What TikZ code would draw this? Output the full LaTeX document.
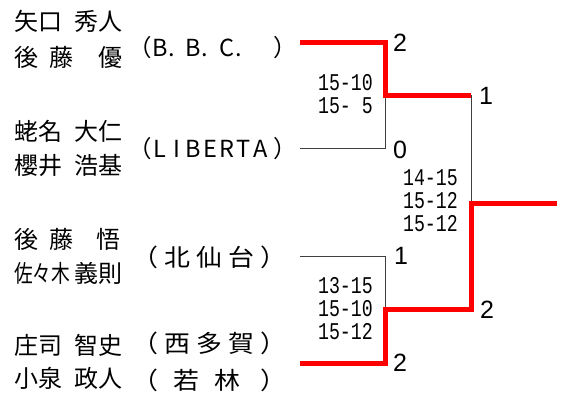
\documentclass[tikz,border=0pt]{standalone}
\usepackage{fontspec}
\usepackage{graphicx}
\newfontfamily\jp{Noto Sans CJK JP}
\newfontfamily\jpwide[FakeStretch=1.08]{Noto Sans CJK JP}
\newfontfamily\scorefont[FakeStretch=0.76]{Liberation Mono}
\newfontfamily\numfont{Liberation Sans}
\newcommand\lslot[1]{\makebox[16.7pt]{#1}}
\newcommand\lslotl[1]{\makebox[16.7pt][l]{#1}}
\tikzset{
  person/.style={font=\jp\fontsize{24}{24}\selectfont, anchor=west, inner sep=0pt},
  club/.style={font=\jpwide\fontsize{24}{24}\selectfont, anchor=west, inner sep=0pt},
  lclub/.style={font=\jp\fontsize{23.5}{23.5}\selectfont, anchor=west, inner sep=0pt},
  score/.style={font=\scorefont\fontsize{24}{23}\selectfont, align=right, anchor=east, inner sep=0pt},
  res/.style={font=\numfont\fontsize{25}{25}\selectfont, inner sep=0pt},
  loser/.style={draw=black!75, line width=1pt},
  winner/.style={draw=red, line width=5pt},
}
\begin{document}
\begin{tikzpicture}[x=1pt,y=-1pt]
\path[fill=white, use as bounding box] (0,0) rectangle (566,394);
% players
\node[person] (p1a) at (14,21.5) {\makebox[108pt]{矢口\hfill 秀人}};
\node[person] (p1b) at (14,57.5) {\makebox[108pt]{\makebox[59pt]{後\hfill 藤}\hfill 優}};
\node[person] (p2a) at (14,131) {\makebox[108pt]{蛯名\hfill 大仁}};
\node[person] (p2b) at (14,165.5) {\makebox[108pt]{櫻井\hfill 浩基}};
\node[person] (p3a) at (14,239) {\makebox[106pt]{\makebox[59pt]{後\hfill 藤}\hfill 悟}};
\node[person] (p3b) at (14,273.5) {\makebox[108pt]{\scalebox{0.78}[1]{佐々木}\hfill 義則}};
\node[person] (p4a) at (14,345) {\makebox[108pt]{庄司\hfill 智史}};
\node[person] (p4b) at (14,378.5) {\makebox[108pt]{小泉\hfill 政人}};
% clubs
\node[lclub] (c1) at (118.3,48) {\makebox[33.4pt][r]{（}\lslot{B}\lslotl{.}\lslot{B}\lslotl{.}\lslot{C}\lslotl{.}\lslot{ }\makebox[33.4pt][l]{\hspace{5pt}）}};
\node[lclub] (c2) at (118.3,148.5) {\makebox[33.4pt][r]{（}\lslot{L}\lslot{I}\lslot{B}\lslot{E}\lslot{R}\lslot{T}\lslot{A}\makebox[33.4pt][l]{\hspace{5pt}）}};
\node[club] (c3) at (132,257) {\makebox[154pt]{（\hfill 北\hfill 仙\hfill 台\hfill ）}};
\node[club] (c4) at (132,343.5) {\makebox[154pt]{（\hfill 西\hfill 多\hfill 賀\hfill ）}};
\node[club] (c5) at (132,380) {\makebox[154pt]{（\hspace{15pt}若\hspace{15pt}林\hfill ）}};
% bracket points
\coordinate (t1) at (300,42);
\coordinate (t2) at (300,148);
\coordinate (t3) at (300,256);
\coordinate (t4) at (300,363);
\coordinate (s1) at (385,95);
\coordinate (s2) at (385,309);
\coordinate (f1) at (471,95);
\coordinate (f2) at (471,309);
\coordinate (fm) at (471,203);
\coordinate (ch) at (557,203);
% loser lines
\draw[loser] (t2) -| (s1);
\draw[loser] (t3) -| (s2);
\draw[loser] (f1) -- (fm);
% winner lines
\draw[winner] (t1) -| (s1) -- (f1);
\draw[winner] (t4) -| (s2) -- (f2) -- (fm) -- (ch);
% results
\node[res] (r1) at (400,42.5) {2};
\node[res] (r2) at (400,150) {0};
\node[res] (r3) at (401,256) {1};
\node[res] (r4) at (400,363) {2};
\node[res] (r5) at (486,96) {1};
\node[res] (r6) at (487,310) {2};
% scores
\node[score] (sc1) at (373,94) {15-10\\15- 5};
\node[score] (sc2) at (458,201) {14-15\\15-12\\15-12};
\node[score] (sc3) at (373,308.5) {13-15\\15-10\\15-12};
\end{tikzpicture}
\end{document}
